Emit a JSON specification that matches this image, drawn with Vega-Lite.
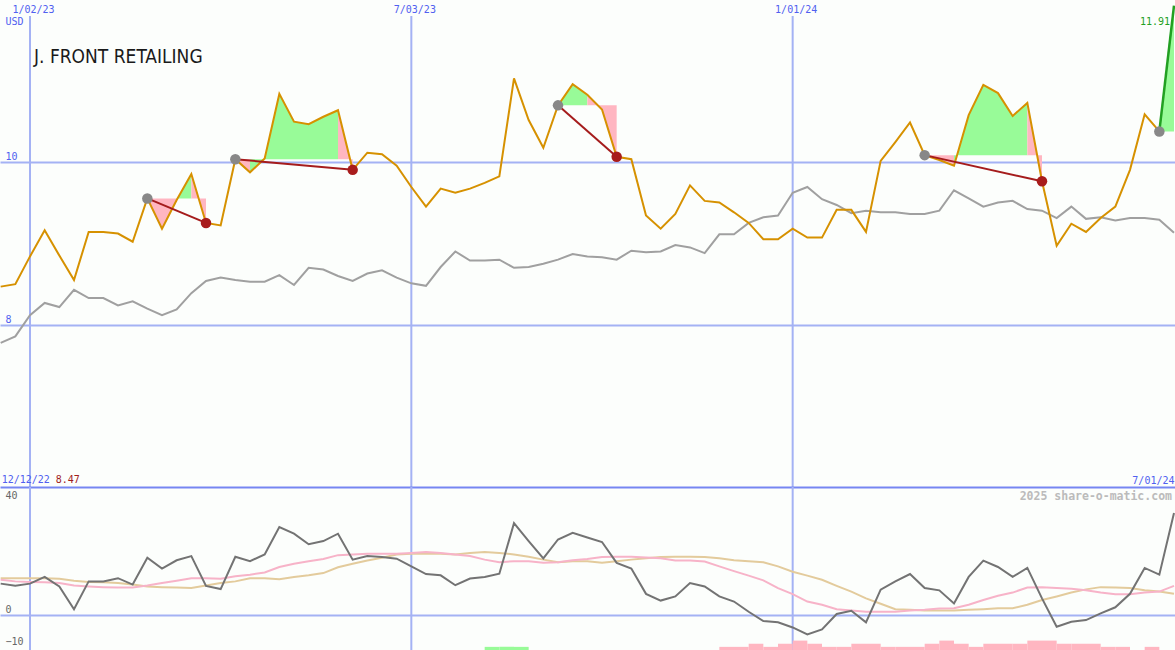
{
  "$schema": "https://vega.github.io/schema/vega-lite/v6.json",
  "background": "#fcfefc",
  "padding": 0,
  "spacing": 0,
  "bounds": "flush",
  "config": {
    "view": {"stroke": null},
    "axis": {"labelFont": "DejaVu Sans Mono", "labelFontSize": 10, "titleFont": "DejaVu Sans Mono"}
  },
  "datasets": {
    "price": [
      {"d": "2022-12-19", "p": 8.47, "g": 7.78},
      {"d": "2022-12-26", "p": 8.50, "g": 7.86},
      {"d": "2023-01-02", "p": 8.84, "g": 8.12},
      {"d": "2023-01-09", "p": 9.16, "g": 8.27},
      {"d": "2023-01-16", "p": 8.85, "g": 8.22},
      {"d": "2023-01-23", "p": 8.55, "g": 8.43},
      {"d": "2023-01-30", "p": 9.14, "g": 8.33},
      {"d": "2023-02-06", "p": 9.14, "g": 8.33},
      {"d": "2023-02-13", "p": 9.12, "g": 8.24},
      {"d": "2023-02-20", "p": 9.02, "g": 8.29},
      {"d": "2023-02-27", "p": 9.55, "g": 8.20},
      {"d": "2023-03-06", "p": 9.18, "g": 8.12},
      {"d": "2023-03-13", "p": 9.53, "g": 8.19},
      {"d": "2023-03-20", "p": 9.85, "g": 8.39},
      {"d": "2023-03-27", "p": 9.25, "g": 8.54},
      {"d": "2023-04-03", "p": 9.22, "g": 8.58},
      {"d": "2023-04-10", "p": 10.03, "g": 8.55},
      {"d": "2023-04-17", "p": 9.87, "g": 8.53},
      {"d": "2023-04-24", "p": 10.04, "g": 8.53},
      {"d": "2023-05-01", "p": 10.83, "g": 8.61},
      {"d": "2023-05-08", "p": 10.49, "g": 8.49},
      {"d": "2023-05-15", "p": 10.46, "g": 8.70},
      {"d": "2023-05-22", "p": 10.55, "g": 8.68},
      {"d": "2023-05-29", "p": 10.63, "g": 8.60},
      {"d": "2023-06-05", "p": 9.90, "g": 8.54},
      {"d": "2023-06-12", "p": 10.11, "g": 8.63},
      {"d": "2023-06-19", "p": 10.09, "g": 8.67},
      {"d": "2023-06-26", "p": 9.95, "g": 8.58},
      {"d": "2023-07-03", "p": 9.69, "g": 8.51},
      {"d": "2023-07-10", "p": 9.45, "g": 8.48},
      {"d": "2023-07-17", "p": 9.67, "g": 8.71},
      {"d": "2023-07-24", "p": 9.62, "g": 8.90},
      {"d": "2023-07-31", "p": 9.67, "g": 8.79},
      {"d": "2023-08-07", "p": 9.74, "g": 8.79},
      {"d": "2023-08-14", "p": 9.82, "g": 8.80},
      {"d": "2023-08-21", "p": 11.02, "g": 8.70},
      {"d": "2023-08-28", "p": 10.51, "g": 8.71},
      {"d": "2023-09-04", "p": 10.17, "g": 8.75},
      {"d": "2023-09-11", "p": 10.69, "g": 8.80},
      {"d": "2023-09-18", "p": 10.95, "g": 8.87},
      {"d": "2023-09-25", "p": 10.82, "g": 8.84},
      {"d": "2023-10-02", "p": 10.64, "g": 8.83},
      {"d": "2023-10-09", "p": 10.06, "g": 8.80},
      {"d": "2023-10-16", "p": 10.03, "g": 8.91},
      {"d": "2023-10-23", "p": 9.34, "g": 8.89},
      {"d": "2023-10-30", "p": 9.18, "g": 8.90},
      {"d": "2023-11-06", "p": 9.36, "g": 8.98},
      {"d": "2023-11-13", "p": 9.71, "g": 8.95},
      {"d": "2023-11-20", "p": 9.52, "g": 8.88},
      {"d": "2023-11-27", "p": 9.50, "g": 9.11},
      {"d": "2023-12-04", "p": 9.38, "g": 9.11},
      {"d": "2023-12-11", "p": 9.25, "g": 9.25},
      {"d": "2023-12-18", "p": 9.05, "g": 9.32},
      {"d": "2023-12-25", "p": 9.05, "g": 9.34},
      {"d": "2024-01-01", "p": 9.18, "g": 9.62},
      {"d": "2024-01-08", "p": 9.07, "g": 9.69},
      {"d": "2024-01-15", "p": 9.07, "g": 9.54},
      {"d": "2024-01-22", "p": 9.41, "g": 9.47},
      {"d": "2024-01-29", "p": 9.41, "g": 9.37},
      {"d": "2024-02-05", "p": 9.14, "g": 9.40},
      {"d": "2024-02-12", "p": 10.01, "g": 9.38},
      {"d": "2024-02-19", "p": 10.24, "g": 9.38},
      {"d": "2024-02-26", "p": 10.48, "g": 9.36},
      {"d": "2024-03-04", "p": 10.08, "g": 9.36},
      {"d": "2024-03-11", "p": 10.02, "g": 9.40},
      {"d": "2024-03-18", "p": 9.95, "g": 9.65},
      {"d": "2024-03-25", "p": 10.57, "g": 9.55},
      {"d": "2024-04-01", "p": 10.94, "g": 9.45},
      {"d": "2024-04-08", "p": 10.84, "g": 9.50},
      {"d": "2024-04-15", "p": 10.56, "g": 9.52},
      {"d": "2024-04-22", "p": 10.72, "g": 9.42},
      {"d": "2024-04-29", "p": 9.76, "g": 9.40},
      {"d": "2024-05-06", "p": 8.97, "g": 9.31},
      {"d": "2024-05-13", "p": 9.24, "g": 9.45},
      {"d": "2024-05-20", "p": 9.14, "g": 9.30},
      {"d": "2024-05-27", "p": 9.31, "g": 9.32},
      {"d": "2024-06-03", "p": 9.45, "g": 9.28},
      {"d": "2024-06-10", "p": 9.90, "g": 9.31},
      {"d": "2024-06-17", "p": 10.58, "g": 9.31},
      {"d": "2024-06-24", "p": 10.37, "g": 9.29},
      {"d": "2024-07-01", "p": null, "g": 9.13}
    ],
    "open": [
      {"d": "2024-06-24", "p": 10.37},
      {"d": "2024-07-01", "p": 11.91, "label": "11.91"}
    ],
    "fills": [
      {"r": "1a", "c": "down", "d": "2023-02-27", "p": 9.55, "e": 9.55},
      {"r": "1a", "c": "down", "d": "2023-03-06", "p": 9.18, "e": 9.55},
      {"r": "1a", "c": "down", "d": "2023-03-13", "p": 9.53, "e": 9.55},
      {"r": "1b", "c": "up", "d": "2023-03-13", "p": 9.53, "e": 9.55},
      {"r": "1b", "c": "up", "d": "2023-03-20", "p": 9.85, "e": 9.55},
      {"r": "1c", "c": "down", "d": "2023-03-20", "p": 9.85, "e": 9.55},
      {"r": "1c", "c": "down", "d": "2023-03-27", "p": 9.25, "e": 9.55},
      {"r": "2a", "c": "down", "d": "2023-04-10", "p": 10.03, "e": 10.03},
      {"r": "2a", "c": "down", "d": "2023-04-17", "p": 9.87, "e": 10.03},
      {"r": "2b", "c": "up", "d": "2023-04-17", "p": 9.87, "e": 10.03},
      {"r": "2b", "c": "up", "d": "2023-04-24", "p": 10.04, "e": 10.03},
      {"r": "2b", "c": "up", "d": "2023-05-01", "p": 10.83, "e": 10.03},
      {"r": "2b", "c": "up", "d": "2023-05-08", "p": 10.49, "e": 10.03},
      {"r": "2b", "c": "up", "d": "2023-05-15", "p": 10.46, "e": 10.03},
      {"r": "2b", "c": "up", "d": "2023-05-22", "p": 10.55, "e": 10.03},
      {"r": "2b", "c": "up", "d": "2023-05-29", "p": 10.63, "e": 10.03},
      {"r": "2c", "c": "down", "d": "2023-05-29", "p": 10.63, "e": 10.03},
      {"r": "2c", "c": "down", "d": "2023-06-05", "p": 9.90, "e": 10.03},
      {"r": "3a", "c": "up", "d": "2023-09-11", "p": 10.69, "e": 10.69},
      {"r": "3a", "c": "up", "d": "2023-09-18", "p": 10.95, "e": 10.69},
      {"r": "3a", "c": "up", "d": "2023-09-25", "p": 10.82, "e": 10.69},
      {"r": "3b", "c": "down", "d": "2023-09-25", "p": 10.82, "e": 10.69},
      {"r": "3b", "c": "down", "d": "2023-10-02", "p": 10.64, "e": 10.69},
      {"r": "3b", "c": "down", "d": "2023-10-09", "p": 10.06, "e": 10.69},
      {"r": "4a", "c": "down", "d": "2024-03-04", "p": 10.08, "e": 10.08},
      {"r": "4a", "c": "down", "d": "2024-03-11", "p": 10.02, "e": 10.08},
      {"r": "4a", "c": "down", "d": "2024-03-18", "p": 9.95, "e": 10.08},
      {"r": "4b", "c": "up", "d": "2024-03-18", "p": 9.95, "e": 10.08},
      {"r": "4b", "c": "up", "d": "2024-03-25", "p": 10.57, "e": 10.08},
      {"r": "4b", "c": "up", "d": "2024-04-01", "p": 10.94, "e": 10.08},
      {"r": "4b", "c": "up", "d": "2024-04-08", "p": 10.84, "e": 10.08},
      {"r": "4b", "c": "up", "d": "2024-04-15", "p": 10.56, "e": 10.08},
      {"r": "4b", "c": "up", "d": "2024-04-22", "p": 10.72, "e": 10.08},
      {"r": "4c", "c": "down", "d": "2024-04-22", "p": 10.72, "e": 10.08},
      {"r": "4c", "c": "down", "d": "2024-04-29", "p": 9.76, "e": 10.08},
      {"r": "5a", "c": "up", "d": "2024-06-24", "p": 10.37, "e": 10.37},
      {"r": "5a", "c": "up", "d": "2024-07-01", "p": 11.91, "e": 10.37}
    ],
    "trades": [
      {"t": 1, "kind": "entry", "d": "2023-02-27", "p": 9.55},
      {"t": 1, "kind": "exit", "d": "2023-03-27", "p": 9.25},
      {"t": 2, "kind": "entry", "d": "2023-04-10", "p": 10.03},
      {"t": 2, "kind": "exit", "d": "2023-06-05", "p": 9.90},
      {"t": 3, "kind": "entry", "d": "2023-09-11", "p": 10.69},
      {"t": 3, "kind": "exit", "d": "2023-10-09", "p": 10.06},
      {"t": 4, "kind": "entry", "d": "2024-03-04", "p": 10.08},
      {"t": 4, "kind": "exit", "d": "2024-04-29", "p": 9.76},
      {"t": 5, "kind": "entry", "d": "2024-06-24", "p": 10.37}
    ],
    "gridDates": [
      {"d": "2023-01-02"},
      {"d": "2023-07-03"},
      {"d": "2024-01-01"}
    ],
    "ind": [
      {"d": "2022-12-19", "o": 9.8, "pk": 11.0, "tn": 11.5},
      {"d": "2022-12-26", "o": 9.1, "pk": 10.5, "tn": 11.5},
      {"d": "2023-01-02", "o": 9.8, "pk": 10.3, "tn": 11.5},
      {"d": "2023-01-09", "o": 11.9, "pk": 10.2, "tn": 11.5},
      {"d": "2023-01-16", "o": 8.9, "pk": 10.0, "tn": 11.3},
      {"d": "2023-01-23", "o": 1.8, "pk": 9.2, "tn": 10.7},
      {"d": "2023-01-30", "o": 10.5, "pk": 8.9, "tn": 10.3},
      {"d": "2023-02-06", "o": 10.5, "pk": 8.7, "tn": 10.2},
      {"d": "2023-02-13", "o": 11.5, "pk": 8.6, "tn": 10.0},
      {"d": "2023-02-20", "o": 9.5, "pk": 8.6, "tn": 9.5},
      {"d": "2023-02-27", "o": 17.9, "pk": 9.2, "tn": 8.9},
      {"d": "2023-03-06", "o": 14.5, "pk": 10.0, "tn": 8.7},
      {"d": "2023-03-13", "o": 17.1, "pk": 10.7, "tn": 8.6},
      {"d": "2023-03-20", "o": 18.4, "pk": 11.5, "tn": 8.4},
      {"d": "2023-03-27", "o": 9.1, "pk": 11.5, "tn": 9.2},
      {"d": "2023-04-03", "o": 8.1, "pk": 11.3, "tn": 10.0},
      {"d": "2023-04-10", "o": 18.2, "pk": 12.1, "tn": 10.5},
      {"d": "2023-04-17", "o": 16.8, "pk": 12.6, "tn": 11.5},
      {"d": "2023-04-24", "o": 18.9, "pk": 13.3, "tn": 11.5},
      {"d": "2023-05-01", "o": 27.5, "pk": 15.0, "tn": 11.2},
      {"d": "2023-05-08", "o": 25.4, "pk": 16.0, "tn": 11.9},
      {"d": "2023-05-15", "o": 22.1, "pk": 16.8, "tn": 12.4},
      {"d": "2023-05-22", "o": 23.1, "pk": 17.5, "tn": 13.1},
      {"d": "2023-05-29", "o": 25.4, "pk": 18.7, "tn": 14.9},
      {"d": "2023-06-05", "o": 17.3, "pk": 18.9, "tn": 16.0},
      {"d": "2023-06-12", "o": 18.4, "pk": 19.1, "tn": 17.0},
      {"d": "2023-06-19", "o": 18.1, "pk": 19.1, "tn": 17.9},
      {"d": "2023-06-26", "o": 17.6, "pk": 19.1, "tn": 18.9},
      {"d": "2023-07-03", "o": 15.2, "pk": 19.4, "tn": 19.1},
      {"d": "2023-07-10", "o": 12.8, "pk": 19.7, "tn": 19.1},
      {"d": "2023-07-17", "o": 12.4, "pk": 19.4, "tn": 19.1},
      {"d": "2023-07-24", "o": 9.3, "pk": 18.9, "tn": 18.9},
      {"d": "2023-07-31", "o": 11.4, "pk": 18.4, "tn": 19.4},
      {"d": "2023-08-07", "o": 11.9, "pk": 17.3, "tn": 19.7},
      {"d": "2023-08-14", "o": 12.9, "pk": 16.5, "tn": 19.4},
      {"d": "2023-08-21", "o": 28.7, "pk": 16.8, "tn": 18.9},
      {"d": "2023-08-28", "o": 23.1, "pk": 16.8, "tn": 18.2},
      {"d": "2023-09-04", "o": 17.7, "pk": 16.3, "tn": 17.3},
      {"d": "2023-09-11", "o": 23.6, "pk": 16.5, "tn": 16.5},
      {"d": "2023-09-18", "o": 25.7, "pk": 17.1, "tn": 16.8},
      {"d": "2023-09-25", "o": 24.2, "pk": 17.5, "tn": 16.8},
      {"d": "2023-10-02", "o": 22.8, "pk": 18.1, "tn": 16.3},
      {"d": "2023-10-09", "o": 16.3, "pk": 18.2, "tn": 16.8},
      {"d": "2023-10-16", "o": 14.5, "pk": 18.2, "tn": 17.3},
      {"d": "2023-10-23", "o": 6.6, "pk": 18.0, "tn": 17.7},
      {"d": "2023-10-30", "o": 4.5, "pk": 17.7, "tn": 18.1},
      {"d": "2023-11-06", "o": 5.8, "pk": 17.0, "tn": 18.2},
      {"d": "2023-11-13", "o": 10.0, "pk": 17.0, "tn": 18.2},
      {"d": "2023-11-20", "o": 8.9, "pk": 16.7, "tn": 18.1},
      {"d": "2023-11-27", "o": 5.8, "pk": 15.2, "tn": 17.7},
      {"d": "2023-12-04", "o": 4.2, "pk": 13.7, "tn": 17.1},
      {"d": "2023-12-11", "o": 1.0, "pk": 12.3, "tn": 16.8},
      {"d": "2023-12-18", "o": -1.9, "pk": 10.8, "tn": 16.5},
      {"d": "2023-12-25", "o": -2.3, "pk": 8.4, "tn": 15.2},
      {"d": "2024-01-01", "o": -3.9, "pk": 6.5, "tn": 13.5},
      {"d": "2024-01-08", "o": -6.1, "pk": 4.2, "tn": 12.3},
      {"d": "2024-01-15", "o": -4.5, "pk": 3.2, "tn": 11.0},
      {"d": "2024-01-22", "o": 0.3, "pk": 1.8, "tn": 9.1},
      {"d": "2024-01-29", "o": 1.3, "pk": 1.4, "tn": 7.3},
      {"d": "2024-02-05", "o": -2.3, "pk": 1.0, "tn": 5.2},
      {"d": "2024-02-12", "o": 7.9, "pk": 1.0, "tn": 3.5},
      {"d": "2024-02-19", "o": 10.5, "pk": 1.0, "tn": 1.8},
      {"d": "2024-02-26", "o": 12.8, "pk": 1.4, "tn": 1.6},
      {"d": "2024-03-04", "o": 8.4, "pk": 1.6, "tn": 1.4},
      {"d": "2024-03-11", "o": 7.7, "pk": 2.0, "tn": 1.4},
      {"d": "2024-03-18", "o": 3.6, "pk": 2.1, "tn": 1.4},
      {"d": "2024-03-25", "o": 11.9, "pk": 3.2, "tn": 1.6},
      {"d": "2024-04-01", "o": 17.0, "pk": 4.7, "tn": 1.8},
      {"d": "2024-04-08", "o": 15.0, "pk": 6.0, "tn": 2.1},
      {"d": "2024-04-15", "o": 11.9, "pk": 7.0, "tn": 2.1},
      {"d": "2024-04-22", "o": 14.7, "pk": 8.6, "tn": 3.2},
      {"d": "2024-04-29", "o": 5.2, "pk": 8.7, "tn": 4.7},
      {"d": "2024-05-06", "o": -3.7, "pk": 8.4, "tn": 5.8},
      {"d": "2024-05-13", "o": -2.1, "pk": 8.2, "tn": 7.0},
      {"d": "2024-05-20", "o": -1.6, "pk": 7.7, "tn": 8.0},
      {"d": "2024-05-27", "o": 0.5, "pk": 7.0, "tn": 8.7},
      {"d": "2024-06-03", "o": 2.4, "pk": 6.5, "tn": 8.6},
      {"d": "2024-06-10", "o": 6.6, "pk": 6.5, "tn": 8.4},
      {"d": "2024-06-17", "o": 14.7, "pk": 7.0, "tn": 7.7},
      {"d": "2024-06-24", "o": 12.6, "pk": 7.3, "tn": 7.3},
      {"d": "2024-07-01", "o": 31.9, "pk": 9.1, "tn": 6.6}
    ],
    "bars": [
      {"d": "2023-08-07", "e": "2023-08-14", "h": 1, "c": "up"},
      {"d": "2023-08-14", "e": "2023-08-21", "h": 1, "c": "up"},
      {"d": "2023-08-21", "e": "2023-08-28", "h": 1, "c": "up"},
      {"d": "2023-11-27", "e": "2023-12-04", "h": 1, "c": "down"},
      {"d": "2023-12-04", "e": "2023-12-11", "h": 1, "c": "down"},
      {"d": "2023-12-11", "e": "2023-12-18", "h": 2, "c": "down"},
      {"d": "2023-12-18", "e": "2023-12-25", "h": 1, "c": "down"},
      {"d": "2023-12-25", "e": "2024-01-01", "h": 2, "c": "down"},
      {"d": "2024-01-01", "e": "2024-01-08", "h": 3, "c": "down"},
      {"d": "2024-01-08", "e": "2024-01-15", "h": 2, "c": "down"},
      {"d": "2024-01-15", "e": "2024-01-22", "h": 1, "c": "down"},
      {"d": "2024-01-22", "e": "2024-01-29", "h": 1, "c": "down"},
      {"d": "2024-01-29", "e": "2024-02-05", "h": 2, "c": "down"},
      {"d": "2024-02-05", "e": "2024-02-12", "h": 2, "c": "down"},
      {"d": "2024-02-12", "e": "2024-02-19", "h": 1, "c": "down"},
      {"d": "2024-02-19", "e": "2024-02-26", "h": 1, "c": "down"},
      {"d": "2024-02-26", "e": "2024-03-04", "h": 1, "c": "down"},
      {"d": "2024-03-04", "e": "2024-03-11", "h": 2, "c": "down"},
      {"d": "2024-03-11", "e": "2024-03-18", "h": 3, "c": "down"},
      {"d": "2024-03-18", "e": "2024-03-25", "h": 2, "c": "down"},
      {"d": "2024-03-25", "e": "2024-04-01", "h": 1, "c": "down"},
      {"d": "2024-04-01", "e": "2024-04-08", "h": 2, "c": "down"},
      {"d": "2024-04-08", "e": "2024-04-15", "h": 2, "c": "down"},
      {"d": "2024-04-15", "e": "2024-04-22", "h": 2, "c": "down"},
      {"d": "2024-04-22", "e": "2024-04-29", "h": 3, "c": "down"},
      {"d": "2024-04-29", "e": "2024-05-06", "h": 3, "c": "down"},
      {"d": "2024-05-06", "e": "2024-05-13", "h": 2, "c": "down"},
      {"d": "2024-05-13", "e": "2024-05-20", "h": 2, "c": "down"},
      {"d": "2024-05-20", "e": "2024-05-27", "h": 2, "c": "down"},
      {"d": "2024-05-27", "e": "2024-06-03", "h": 1, "c": "down"},
      {"d": "2024-06-03", "e": "2024-06-10", "h": 1, "c": "down"},
      {"d": "2024-06-17", "e": "2024-06-24", "h": 1, "c": "down"}
    ],
    "startLabel": [{"d": "2022-12-19", "label": "12/12/22", "start": "8.47"}],
    "credit": [{"d": "2024-07-01", "label": "2025 share-o-matic.com"}]
  },
  "vconcat": [
    {
      "width": 1175,
      "height": 487,
      "title": {
        "text": "J. FRONT RETAILING",
        "anchor": "start",
        "frame": "group",
        "orient": "top",
        "offset": -86,
        "dx": 34,
        "baseline": "bottom",
        "font": "DejaVu Sans Condensed, Roboto Condensed, Liberation Sans Narrow, Roboto, sans-serif",
        "fontSize": 19,
        "fontWeight": "normal",
        "color": "#1a1a1a"
      },
      "encoding": {
        "x": {
          "field": "d",
          "type": "temporal",
          "scale": {"type": "utc", "domain": [1671380524800, 1719833212800], "nice": false},
          "axis": {
            "orient": "top",
            "values": [
              {"year": 2023, "month": 1, "date": 2, "utc": true},
              {"year": 2023, "month": 7, "date": 3, "utc": true},
              {"year": 2024, "month": 1, "date": 1, "utc": true}
            ],
            "format": "%-m/%d/%y",
            "title": null,
            "domain": false,
            "ticks": false,
            "tickSize": 0,
            "grid": false,
            "labelPadding": -14.5,
            "labelOffset": 3,
            "labelColor": "#5060f0"
          }
        }
      },
      "resolve": {"scale": {"color": "independent"}},
      "layer": [
        {
          "data": {"name": "gridDates"},
          "mark": {"type": "rule", "color": "#a4b2f4", "strokeWidth": 2},
          "encoding": {
            "y": {"datum": 11.784, "type": "quantitative", "scale": {"domain": [6.016, 11.98], "nice": false, "zero": false}},
            "y2": {"datum": 6.016}
          }
        },
        {
          "data": {"name": "fills"},
          "mark": {"type": "area", "opacity": 1},
          "encoding": {
            "y": {"field": "p", "type": "quantitative", "scale": {"domain": [6.016, 11.98], "nice": false, "zero": false}},
            "y2": {"field": "e"},
            "detail": {"field": "r"},
            "color": {"field": "c", "type": "nominal", "scale": {"domain": ["up", "down"], "range": ["#98fb98", "#ffb6c1"]}, "legend": null}
          }
        },
        {
          "data": {"name": "price"},
          "mark": {"type": "line", "color": "#a0a0a0", "strokeWidth": 2, "clip": true},
          "encoding": {
            "y": {
              "field": "g",
              "type": "quantitative",
              "scale": {"domain": [6.016, 11.98], "nice": false, "zero": false},
              "axis": {
                "values": [8, 10],
                "format": "d",
                "grid": true,
                "gridColor": "#a4b2f4",
                "gridWidth": 2,
                "gridOpacity": 1,
                "domain": false,
                "ticks": false,
                "tickSize": 0,
                "labelAlign": "left",
                "labelBaseline": "bottom",
                "labelPadding": -5,
                "labelColor": "#5060f0",
                "title": "USD",
                "titleAngle": 0,
                "titleAlign": "left",
                "titleBaseline": "alphabetic",
                "titleX": 5,
                "titleY": 24.5,
                "titleFontSize": 10,
                "titleFontWeight": "normal",
                "titleColor": "#5060f0"
              }
            }
          }
        },
        {
          "data": {"name": "price"},
          "mark": {"type": "line", "color": "#d69100", "strokeWidth": 2, "clip": true},
          "encoding": {
            "y": {"field": "p", "type": "quantitative", "scale": {"domain": [6.016, 11.98], "nice": false, "zero": false}}
          }
        },
        {
          "data": {"name": "trades"},
          "mark": {"type": "line", "color": "#a51c1c", "strokeWidth": 2},
          "encoding": {
            "y": {"field": "p", "type": "quantitative", "scale": {"domain": [6.016, 11.98], "nice": false, "zero": false}},
            "detail": {"field": "t"}
          }
        },
        {
          "data": {"name": "open"},
          "mark": {"type": "line", "color": "#22a022", "strokeWidth": 2.5},
          "encoding": {
            "y": {"field": "p", "type": "quantitative", "scale": {"domain": [6.016, 11.98], "nice": false, "zero": false}}
          }
        },
        {
          "data": {"name": "trades"},
          "mark": {"type": "point", "filled": true, "opacity": 1, "size": 110},
          "encoding": {
            "y": {"field": "p", "type": "quantitative", "scale": {"domain": [6.016, 11.98], "nice": false, "zero": false}},
            "color": {"field": "kind", "type": "nominal", "scale": {"domain": ["entry", "exit"], "range": ["#888888", "#a81c1c"]}, "legend": null}
          }
        },
        {
          "data": {"name": "open"},
          "transform": [{"filter": "datum.label != null"}],
          "mark": {"type": "text", "align": "right", "baseline": "alphabetic", "dx": -4, "dy": 19, "font": "DejaVu Sans Mono", "fontSize": 10, "color": "#22a022"},
          "encoding": {
            "y": {"field": "p", "type": "quantitative", "scale": {"domain": [6.016, 11.98], "nice": false, "zero": false}},
            "text": {"field": "label"}
          }
        }
      ]
    },
    {
      "width": 1175,
      "height": 163,
      "encoding": {
        "x": {
          "field": "d",
          "type": "temporal",
          "scale": {"type": "utc", "domain": [1671380524800, 1719833212800], "nice": false},
          "axis": {
            "orient": "top",
            "values": [{"year": 2024, "month": 7, "date": 1, "utc": true}],
            "format": "%-m/%d/%y",
            "title": null,
            "domain": true,
            "domainColor": "#7686f2",
            "domainWidth": 2,
            "ticks": false,
            "tickSize": 0,
            "grid": false,
            "labelAlign": "right",
            "labelPadding": 2,
            "labelColor": "#5060f0"
          }
        }
      },
      "resolve": {"scale": {"y": "independent"}},
      "layer": [
        {
          "layer": [
            {
              "data": {"name": "gridDates"},
              "mark": {"type": "rule", "color": "#a4b2f4", "strokeWidth": 2},
              "encoding": {}
            },
            {
              "data": {"name": "ind"},
              "mark": {"type": "line", "color": "#e3cb9c", "strokeWidth": 2, "clip": true},
              "encoding": {
                "y": {
                  "field": "tn",
                  "type": "quantitative",
                  "scale": {"domain": [-10.95, 40], "nice": false, "zero": false},
                  "axis": {
                    "values": [40, 0, -10],
                    "format": "d",
                    "grid": true,
                    "gridColor": "#a4b2f4",
                    "gridWidth": 2,
                    "gridOpacity": {"condition": {"test": "datum.value === 0", "value": 1}, "value": 0},
                    "domain": false,
                    "ticks": false,
                    "tickSize": 0,
                    "labelAlign": "left",
                    "labelBaseline": {"condition": {"test": "datum.value >= 40", "value": "top"}, "value": "bottom"},
                    "labelOffset": {"condition": {"test": "datum.value >= 40", "value": 3}, "value": 0},
                    "labelPadding": -5,
                    "labelColor": "#666666",
                    "title": null
                  }
                }
              }
            },
            {
              "data": {"name": "ind"},
              "mark": {"type": "line", "color": "#f7b3c8", "strokeWidth": 2, "clip": true},
              "encoding": {
                "y": {"field": "pk", "type": "quantitative", "scale": {"domain": [-10.95, 40], "nice": false, "zero": false}}
              }
            },
            {
              "data": {"name": "ind"},
              "mark": {"type": "line", "color": "#737373", "strokeWidth": 2, "clip": true},
              "encoding": {
                "y": {"field": "o", "type": "quantitative", "scale": {"domain": [-10.95, 40], "nice": false, "zero": false}}
              }
            },
            {
              "data": {"name": "startLabel"},
              "mark": {"type": "text", "align": "left", "baseline": "bottom", "dx": 1, "dy": -2, "font": "DejaVu Sans Mono", "fontSize": 10, "color": "#5060f0"},
              "encoding": {
                "y": {"datum": 40, "type": "quantitative", "scale": {"domain": [-10.95, 40], "nice": false, "zero": false}},
                "text": {"field": "label"}
              }
            },
            {
              "data": {"name": "startLabel"},
              "mark": {"type": "text", "align": "left", "baseline": "bottom", "dx": 55, "dy": -2, "font": "DejaVu Sans Mono", "fontSize": 10, "color": "#a01c1c"},
              "encoding": {
                "y": {"datum": 40, "type": "quantitative", "scale": {"domain": [-10.95, 40], "nice": false, "zero": false}},
                "text": {"field": "start"}
              }
            },
            {
              "data": {"name": "credit"},
              "mark": {"type": "text", "align": "right", "baseline": "top", "dx": -2, "dy": 4, "font": "DejaVu Sans Mono", "fontSize": 11.5, "fontWeight": "bold", "color": "#bbbbbb"},
              "encoding": {
                "y": {"datum": 40, "type": "quantitative", "scale": {"domain": [-10.95, 40], "nice": false, "zero": false}},
                "text": {"field": "label"}
              }
            }
          ]
        },
        {
          "data": {"name": "bars"},
          "mark": {"type": "rect"},
          "encoding": {
            "x2": {"field": "e"},
            "y": {"field": "h", "type": "quantitative", "scale": {"domain": [0, 52], "nice": false, "zero": true}, "axis": null},
            "y2": {"datum": 0},
            "color": {"field": "c", "type": "nominal", "scale": {"domain": ["up", "down"], "range": ["#98fb98", "#ffb6c1"]}, "legend": null}
          }
        }
      ]
    }
  ]
}
